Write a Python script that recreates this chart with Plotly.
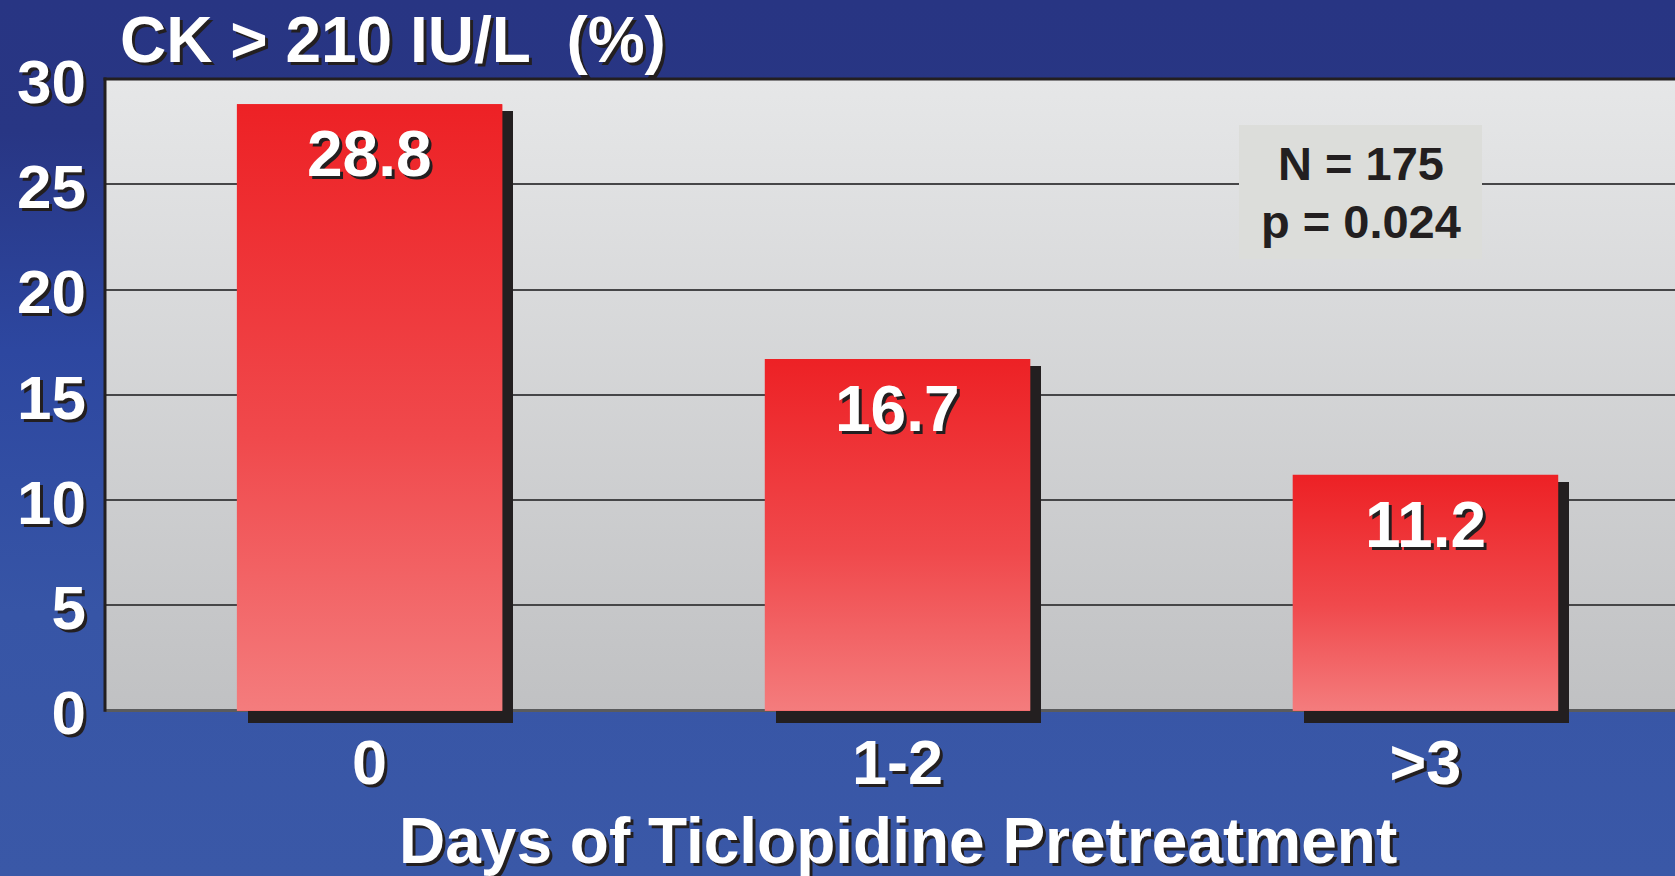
import plotly.graph_objects as go

# ---------------- data ----------------
categories = ["0", "1-2", ">3"]
values = [28.8, 16.7, 11.2]
y_ticks = [0, 5, 10, 15, 20, 25, 30]
y_tick_labels = ["0", "5", "10", "15", "20", "25", "30"]
title_text = "CK > 210 IU/L\u00a0\u00a0(%)"
x_title_text = "Days of Ticlopidine Pretreatment"
stats_lines = ["N = 175", "p = 0.024"]

# ---------------- layout constants (px) ----------------
W, H = 1675, 876
PX_LEFT, PX_TOP, PX_ZERO = 105, 79, 710.7
Y_MIN, Y_MAX = -1, 30
ppu = (PX_ZERO - PX_TOP) / Y_MAX
PX_BOTTOM = PX_ZERO - Y_MIN * ppu
X_RANGE = [-0.5013, 2.4727]
BAR_W = 0.503
cat_px = (W - PX_LEFT) / (X_RANGE[1] - X_RANGE[0])
SH_DX = 11 / cat_px          # shadow offset right (category units)
SH_DY = 7 / ppu              # shadow offset down (value units)
SH_BASE = -12 / ppu          # shadow bottom below zero line

FONT = "Liberation Sans, Arial, Helvetica, sans-serif"
TXT_SHADOW = "3px 3px 0px #231F20"
DARK = "#231F20"

def py(px):
    return 1 - px / H

def pxx(px):
    return px / W

idx = list(range(len(categories)))

fig = go.Figure()

# ---------- background subplot (full paper) ----------
fig.add_trace(go.Scatter(
    x=[0, 1, 1, 0, 0], y=[0, 0, 1, 1, 0], mode="lines", fill="toself",
    line=dict(width=0), hoverinfo="skip", showlegend=False,
    fillgradient=dict(type="vertical", start=0, stop=1,
                      colorscale=[[0, "#3A58A7"], [0.3, "#3755A6"], [0.6, "#2D47A0"],
                                  [0.85, "#283684"], [1, "#283583"]]),
    xaxis="x", yaxis="y"))
gx0, gx1 = pxx(PX_LEFT), 1
gy0, gy1 = py(PX_ZERO), py(PX_TOP)
fig.add_trace(go.Scatter(
    x=[gx0, gx1, gx1, gx0, gx0], y=[gy0, gy0, gy1, gy1, gy0], mode="lines", fill="toself",
    line=dict(width=0), hoverinfo="skip", showlegend=False,
    fillgradient=dict(type="vertical", start=gy0, stop=gy1,
                      colorscale=[[0, "#C0C1C3"], [1, "#E6E7E8"]]),
    xaxis="x", yaxis="y"))

# ---------- shadows ----------
fig.add_trace(go.Bar(
    x=[i + SH_DX for i in idx], y=[v - SH_DY - SH_BASE for v in values], base=SH_BASE,
    width=BAR_W, marker=dict(color=DARK, line=dict(width=0)),
    hoverinfo="skip", showlegend=False, xaxis="x2", yaxis="y2"))

# ---------- main bars ----------
fig.add_trace(go.Bar(
    x=idx, y=values, width=BAR_W, marker=dict(color="#F04548", line=dict(width=0)),
    showlegend=False, hovertemplate="%{y}<extra></extra>", xaxis="x2", yaxis="y2"))

# gradient overlay on each bar, from the same data
for i, v in zip(idx, values):
    x0, x1 = i - BAR_W / 2, i + BAR_W / 2
    fig.add_trace(go.Scatter(
        x=[x0, x1, x1, x0, x0], y=[0, 0, v, v, 0], mode="lines", fill="toself",
        line=dict(width=0), hoverinfo="skip", showlegend=False,
        fillgradient=dict(type="vertical", start=0, stop=v,
                          colorscale=[[0, "#F47C7D"], [0.45, "#F0494C"], [1, "#ED2125"]]),
        xaxis="x2", yaxis="y2"))

annotations = []
# value labels
for i, v in zip(idx, values):
    annotations.append(dict(
        x=i, y=v, xref="x2", yref="y2", text=f"{v:.1f}", showarrow=False,
        xanchor="center", yanchor="middle", yshift=-50,
        font=dict(family=FONT, size=64, color="white", weight="bold", shadow=TXT_SHADOW)))

# chart title
annotations.append(dict(
    x=pxx(118), y=py(40), xref="paper", yref="paper", text=title_text, showarrow=False,
    xanchor="left", yanchor="middle",
    font=dict(family=FONT, size=64, color="white", weight="bold", shadow=TXT_SHADOW)))

# x axis title
annotations.append(dict(
    x=pxx(898), y=py(841), xref="paper", yref="paper", text=x_title_text, showarrow=False,
    xanchor="center", yanchor="middle",
    font=dict(family=FONT, size=64, color="white", weight="bold", shadow=TXT_SHADOW)))

# stats box text
for line, cy in zip(stats_lines, [164, 221]):
    annotations.append(dict(
        x=pxx(1361), y=py(cy), xref="paper", yref="paper", text=line, showarrow=False,
        xanchor="center", yanchor="middle",
        font=dict(family=FONT, size=47, color=DARK, weight="bold")))

shapes = [
    # stats box
    dict(type="rect", xref="paper", yref="paper", x0=pxx(1239), x1=pxx(1482),
         y0=py(259), y1=py(125), fillcolor="#DCDDDA", line=dict(width=0), layer="above"),
    # left border
    dict(type="line", xref="paper", yref="paper", x0=pxx(PX_LEFT), x1=pxx(PX_LEFT),
         y0=py(PX_ZERO + 1), y1=py(PX_TOP - 1.5), line=dict(color=DARK, width=3), layer="above"),
    # top border
    dict(type="line", xref="paper", yref="paper", x0=pxx(PX_LEFT - 1.5), x1=1,
         y0=py(PX_TOP), y1=py(PX_TOP), line=dict(color=DARK, width=3), layer="above"),
]

fig.update_layout(
    template="none",
    width=W, height=H, margin=dict(l=0, r=0, t=0, b=0, pad=0, autoexpand=False),
    paper_bgcolor="#2F4A9E", plot_bgcolor="rgba(0,0,0,0)",
    barmode="overlay", bargap=0, showlegend=False,
    font=dict(family=FONT, color="white"),
    xaxis=dict(domain=[0, 1], range=[0, 1], visible=False, fixedrange=True, automargin=False),
    yaxis=dict(domain=[0, 1], range=[0, 1], visible=False, fixedrange=True, automargin=False),
    xaxis2=dict(domain=[pxx(PX_LEFT), 1], range=X_RANGE, anchor="y2",
                tickmode="array", tickvals=idx, ticktext=categories,
                showgrid=False, zeroline=False, showline=False, ticks="",
                ticklabelstandoff=-12, fixedrange=True, automargin=False,
                tickfont=dict(family=FONT, size=63, color="white", weight="bold",
                              shadow=TXT_SHADOW)),
    yaxis2=dict(domain=[py(PX_BOTTOM), py(PX_TOP)], range=[Y_MIN, Y_MAX], anchor="x2",
                tickmode="array", tickvals=y_ticks, ticktext=y_tick_labels,
                showgrid=True, gridcolor="#464648", gridwidth=2,
                zeroline=True, zerolinecolor="#5A5B5D", zerolinewidth=3,
                showline=False, ticks="", ticklabelstandoff=18, ticklabelshift=2,
                fixedrange=True, automargin=False,
                tickfont=dict(family=FONT, size=62, color="white", weight="bold",
                              shadow=TXT_SHADOW)),
    annotations=annotations, shapes=shapes,
)

fig.write_html(
    "out.html",
    config={"displayModeBar": False},
    post_script="document.body.style.margin='0';document.body.style.overflow='hidden';",
)
